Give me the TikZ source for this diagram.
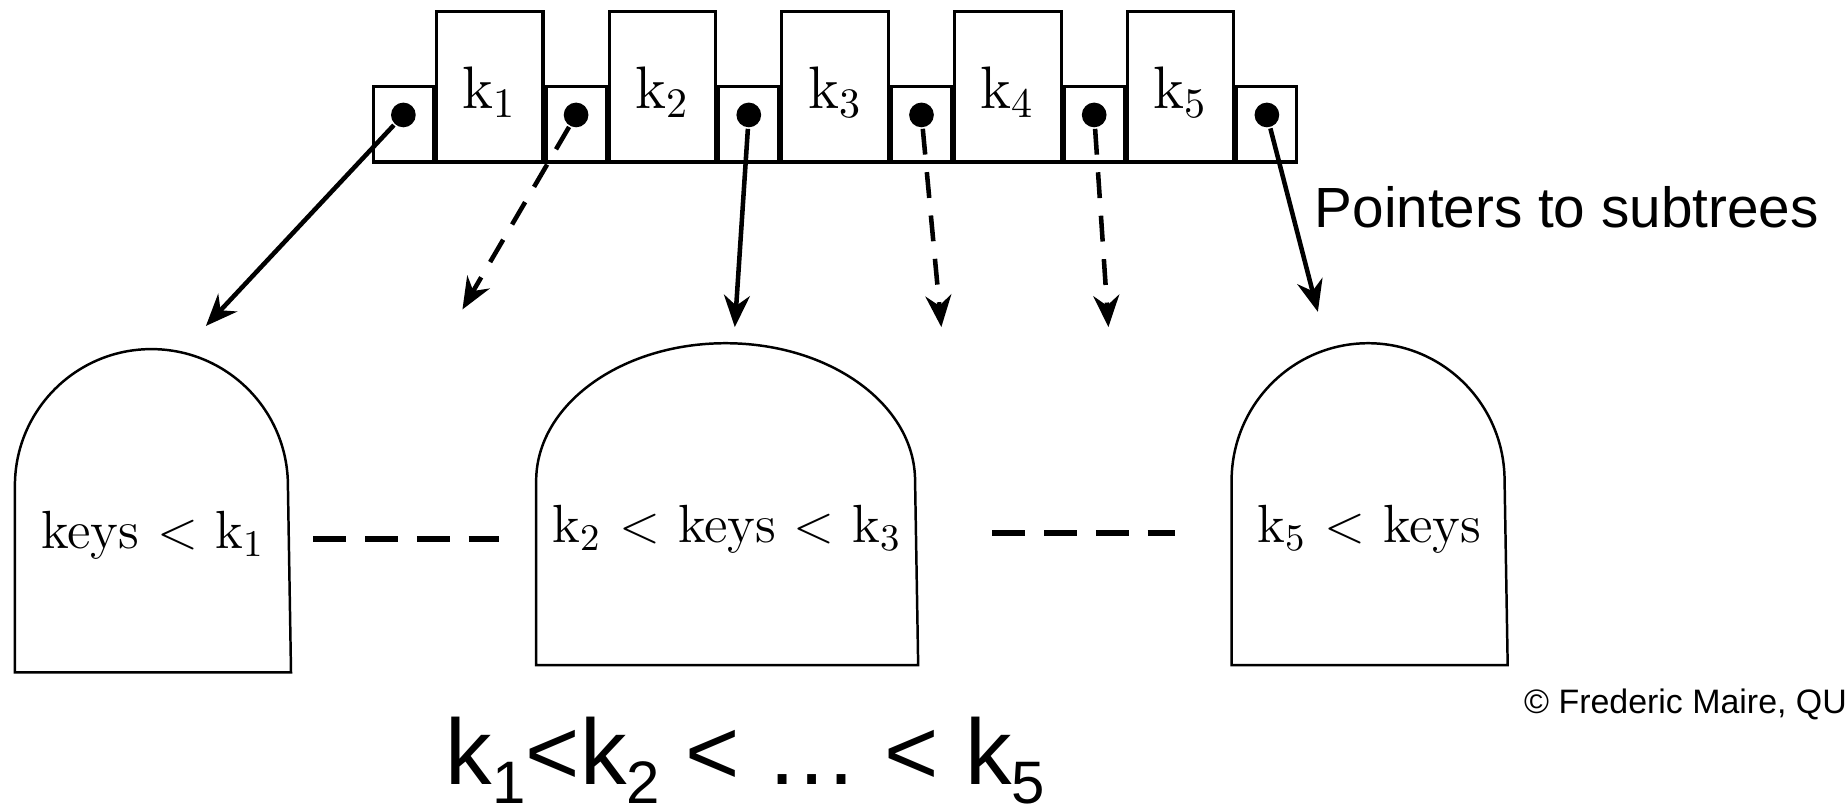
\documentclass[tikz,border=0pt]{standalone}
\usepackage{fontspec}
\newfontfamily\labelfont{Liberation Sans}
\usetikzlibrary{arrows.meta}
\newcommand\keyfont{\fontsize{13pt}{15pt}\selectfont}
\newcommand\cellfont{\fontsize{14.5pt}{16pt}\selectfont}
\newcommand\lowsub[1]{\raisebox{-0.2em}{\fontsize{14.5pt}{15pt}\selectfont #1}}

\begin{document}
\begin{tikzpicture}[>={Stealth[length=0.27cm,width=0.22cm]}, line width=0.75pt,
    ptr cell/.style={draw, anchor=south west, inner sep=0pt, minimum width=0.51cm, minimum height=0.64cm},
    key cell/.style={draw, anchor=south west, inner sep=0pt, minimum width=0.905cm, minimum height=1.28cm, font=\cellfont, text height=0.47cm, text depth=0.10cm},
    ptr dot/.style={circle, fill, inner sep=0pt, minimum size=0.21cm},
    ptr line/.style={->, line width=1.1pt},
    ptr dashed/.style={->, line width=1.1pt, dash pattern=on 0.22cm off 0.15cm},
    sub body/.style={inner sep=0pt},
    dome/.style={line width=0.6pt},
    range text/.style={font=\keyfont, anchor=base, yshift=0.26cm, text height=0.32cm, text depth=0.16cm},
    gap line/.style={line width=1.6pt, dash pattern=on 0.28cm off 0.16cm}]

    \useasboundingbox (0,0) rectangle (15.68,6.89);

    % the node: pointers and keys
    \node[ptr cell] (p1) at (3.16,5.50) {};
    \node[key cell] (k1) at (p1.south east) {k\textsubscript{1}};
    \node[ptr cell] (p2) at (k1.south east) {};
    \node[key cell] (k2) at (p2.south east) {k\textsubscript{2}};
    \node[ptr cell] (p3) at (k2.south east) {};
    \node[key cell] (k3) at (p3.south east) {k\textsubscript{3}};
    \node[ptr cell] (p4) at (k3.south east) {};
    \node[key cell] (k4) at (p4.south east) {k\textsubscript{4}};
    \node[ptr cell] (p5) at (k4.south east) {};
    \node[key cell] (k5) at (p5.south east) {k\textsubscript{5}};
    \node[ptr cell] (p6) at (k5.south east) {};

    \node[ptr dot] (d1) at ([yshift=0.08cm]p1.center) {};
    \node[ptr dot] (d2) at ([yshift=0.08cm]p2.center) {};
    \node[ptr dot] (d3) at ([yshift=0.08cm]p3.center) {};
    \node[ptr dot] (d4) at ([yshift=0.08cm]p4.center) {};
    \node[ptr dot] (d5) at ([yshift=0.08cm]p5.center) {};
    \node[ptr dot] (d6) at ([yshift=0.08cm]p6.center) {};

    % subtrees
    \node[sub body, minimum width=2.32cm, minimum height=1.56cm] (s1) at (1.30,1.97) {};
    \node[sub body, minimum width=3.22cm, minimum height=1.54cm] (s2) at (6.18,2.02) {};
    \node[sub body, minimum width=2.32cm, minimum height=1.54cm] (s3) at (11.64,2.02) {};
    \draw[dome] (s1.north west) arc[start angle=180, end angle=0, x radius=1.16cm, y radius=1.16cm] -- (s1.south east) -- (s1.south west) -- cycle;
    \draw[dome] (s2.north west) arc[start angle=180, end angle=0, x radius=1.61cm, y radius=1.17cm] -- (s2.south east) -- (s2.south west) -- cycle;
    \draw[dome] (s3.north west) arc[start angle=180, end angle=0, x radius=1.16cm, y radius=1.17cm] -- (s3.south east) -- (s3.south west) -- cycle;

    \node[range text] (r1) at (s1.center) {keys < k\textsubscript{1}};
    \node[range text] (r2) at (s2.center) {k\textsubscript{2} < keys < k\textsubscript{3}};
    \node[range text] (r3) at (s3.center) {k\textsubscript{5} < keys};

    \draw[gap line, shorten <=0.19cm, shorten >=0.32cm] (r1 -| s1.east) -- (r1 -| s2.west);
    \draw[gap line, shorten <=0.63cm, shorten >=0.48cm] (r2 -| s2.east) -- (r3 -| s3.west);

    \coordinate (e1) at (1.75,4.12);
    \coordinate (e2) at (3.93,4.26);
    \coordinate (e3) at (6.245,4.11);
    \coordinate (e4) at (8.00,4.11);
    \coordinate (e5) at (9.42,4.11);
    \coordinate (e6) at (11.20,4.24);

    \path (d1) edge[ptr line] (e1)
          (d2) edge[ptr dashed] (e2)
          (d3) edge[ptr line] (e3)
          (d4) edge[ptr dashed] (e4)
          (d5) edge[ptr dashed] (e5)
          (d6) edge[ptr line] (e6);

    \node[font=\labelfont\fontsize{13.7pt}{16pt}\selectfont, anchor=base west, inner sep=0pt] (ptrnote) at (11.16,4.96) {Pointers to subtrees};
    \node[font=\labelfont\fontsize{8.2pt}{10pt}\selectfont, anchor=base west, inner sep=0pt] (credit) at (12.94,0.83) {© Frederic Maire, QU};
    \node[font=\labelfont\fontsize{22.5pt}{27pt}\selectfont, anchor=base] (order) at (6.335,0.22) {k\lowsub{1}<k\lowsub{2} < … < k\lowsub{5}};
\end{tikzpicture}
\end{document}
